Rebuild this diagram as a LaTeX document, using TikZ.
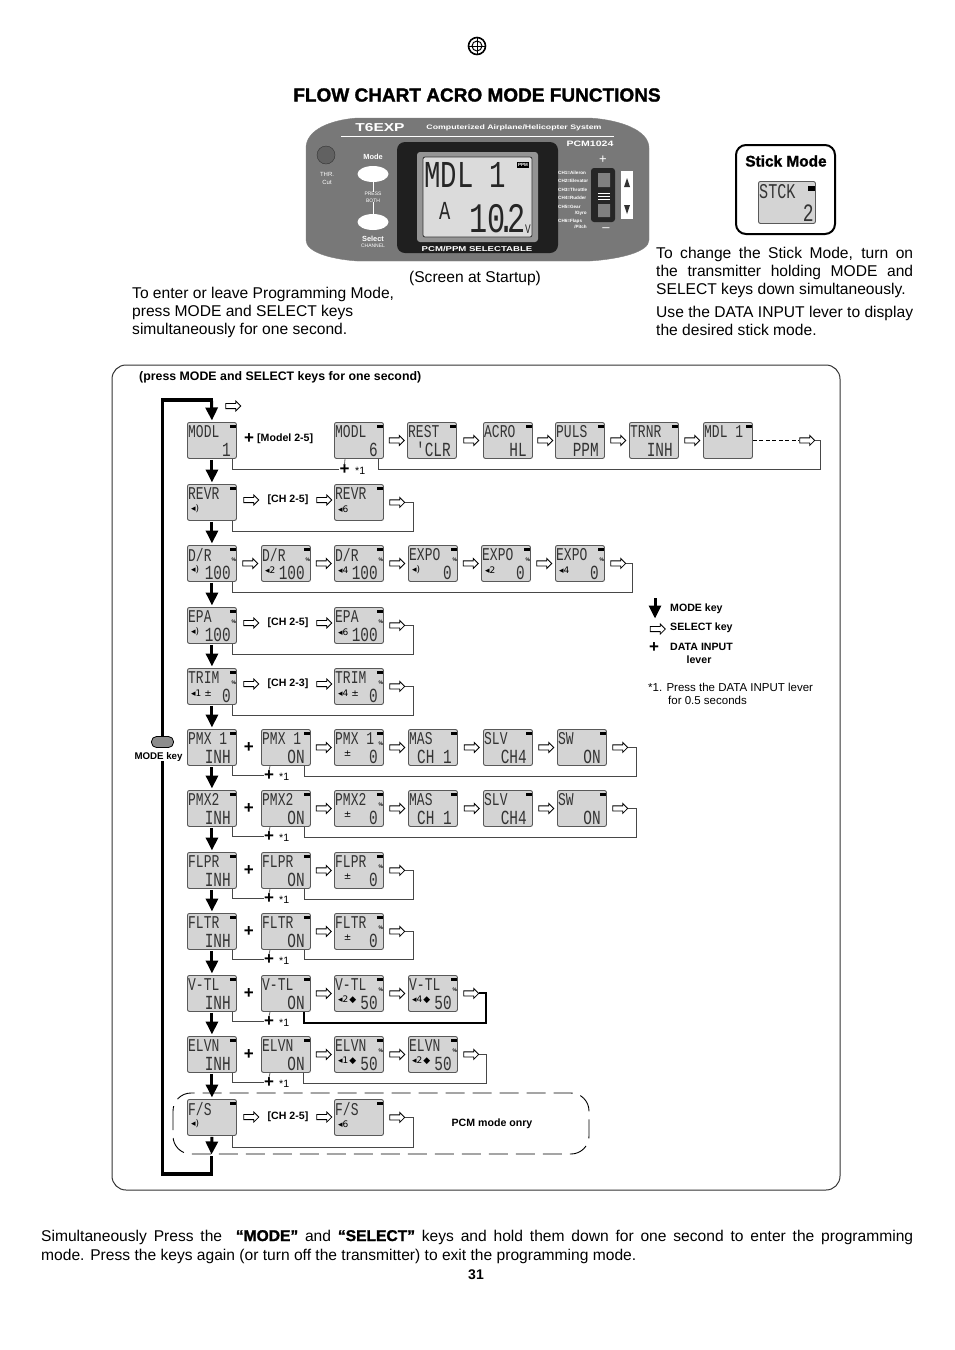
\documentclass[tikz,border=0pt]{standalone}
\usepackage{fontspec}
\setmainfont{Liberation Sans}
\newfontfamily\lcdfont[FakeStretch=0.72]{Liberation Mono}
\newfontfamily\iconfont{DejaVu Sans}
\newfontfamily\fatfont[FakeBold=1.5]{Liberation Sans Bold}
\newfontfamily\widefont[FakeStretch=1.35]{Liberation Sans Bold}
\usetikzlibrary{calc,shapes.arrows,shapes.geometric,arrows.meta}
\definecolor{panelgray}{gray}{0.47}
\definecolor{lcdgray}{gray}{0.83}
\tikzset{
  lcdbox/.style={draw=black!65,fill=lcdgray,line width=0.9pt,rounded corners=2pt,anchor=north west,
    minimum width=49pt,minimum height=36pt,inner sep=0pt},
  lcdtop/.style={font=\lcdfont\fontsize{18}{18}\selectfont,anchor=north west,inner sep=0pt,text=black!80},
  lcdval/.style={font=\lcdfont\fontsize{20}{20}\selectfont,anchor=south east,inner sep=0pt,text=black!80},
  lcdsub/.style={font=\iconfont\fontsize{9}{9}\selectfont,anchor=west,inner sep=0pt},
  selkey/.style={single arrow,draw=black,fill=white,line width=0.8pt,minimum height=15pt,minimum width=0pt,
    single arrow head extend=2.4pt,inner sep=2.2pt},
  modekey/.style={line width=3pt,-{Triangle[width=12pt,length=13pt]},shorten >=1.5pt,shorten <=1pt},
  loopline/.style={line width=3.4pt},
  datakey/.style={font=\bfseries\fontsize{17}{17}\selectfont,inner sep=0pt},
  link/.style={draw=black!72,line width=1.1pt},
  stub/.style={draw=black!60,line width=0.8pt},
  bodytxt/.style={font=\fontsize{15.6}{18}\selectfont,inner sep=0pt},
  boldtxt/.style={font=\bfseries\fontsize{10.6}{13}\selectfont,inner sep=0pt},
  thintxt/.style={font=\fontsize{10.6}{13}\selectfont,inner sep=0pt},
  notetxt/.style={font=\fontsize{11.5}{13}\selectfont,inner sep=0pt},
  paneltxt/.style={font=\bfseries\fontsize{4.6}{6}\selectfont,text=white,inner sep=0pt},
}
% one screen: name, x, y, top line, small symbol, value
\newcommand{\lcd}[6]{
  \node[lcdbox] (#1) at (#2,#3) {};
  \fill[black] ([xshift=-7pt,yshift=-3pt]#1.north east) rectangle ++(6,3);
  \node[lcdtop] (#1t) at ([xshift=1pt,yshift=-3pt]#1.north west) {#4};
  \node[lcdsub] (#1s) at ([xshift=4pt,yshift=12pt]#1.south west) {#5};
  \node[lcdval] (#1v) at ([xshift=-6pt,yshift=2pt]#1.south east) {#6};
}
\newcommand{\lcdp}[6]{
  \lcd{#1}{#2}{#3}{#4}{#5}{#6}
  \node[font=\bfseries\fontsize{5}{5}\selectfont,inner sep=0pt] (#1p) at ([xshift=-3pt,yshift=-15pt]#1.north east) {\%};
}
\newcommand{\selbetween}[2]{\node[selkey] (#1-#2) at ($(#1.east)!.5!(#2.west)$) {};}
\newcommand{\selafter}[1]{\node[selkey] (#1-e) at ([xshift=12pt]#1.east) {};}
\newcommand{\plusbetween}[2]{\node[datakey] (#1-#2) at ($(#1.east)!.5!(#2.west)$) {+};}
\begin{document}
\begin{tikzpicture}[x=1pt,y=-1pt]
\useasboundingbox (0,0) rectangle (954,1350);
% heading
\node[circle,draw,line width=1.6pt,minimum size=17pt,inner sep=0pt] (globe) at (477,46) {};
\node[circle,draw,line width=1pt,minimum size=10pt,inner sep=0pt] (globein) at (477,46) {};
\draw[line width=1pt] (globe.north) -- (globe.south) (globe.west) -- (globe.east);
\node[font=\fatfont\fontsize{19}{20}\selectfont,inner sep=0pt] (title) at (477,95) {FLOW CHART ACRO MODE FUNCTIONS};
% transmitter
\draw[draw=black!50,fill=panelgray] (357,118) -- (590,118) .. controls (620,120) and (649,130) .. (649,148) -- (649,240)
  .. controls (649,252) and (620,259) .. (590,261) -- (357,261) .. controls (330,259) and (306,252) .. (306,240)
  -- (306,148) .. controls (306,130) and (330,120) .. (357,118) -- cycle;
\node[font=\widefont\fontsize{11.5}{12}\selectfont,text=white,inner sep=0pt] (txname) at (380,128) {T6EXP};
\node[font=\widefont\fontsize{6.5}{7}\selectfont,text=white,inner sep=0pt] (txsys) at (514,128) {Computerized Airplane/Helicopter System};
\draw[white,line width=0.8pt] (341,136) -- (614,136);
\node[font=\widefont\fontsize{7.8}{8}\selectfont,text=white,inner sep=0pt] (txpcm) at (590,144) {PCM1024};
\node[circle,draw=black!80,fill=black!62,minimum size=18pt,inner sep=0pt] (thr) at (326,155) {};
\node[font=\fontsize{6}{8}\selectfont,text=white,align=center,inner sep=0pt] (thrl) at (327,178) {THR.\\Cut};
\node[font=\bfseries\fontsize{7.4}{8}\selectfont,text=white,inner sep=0pt] (model) at (373,157) {Mode};
\node[ellipse,fill=white,minimum width=31pt,minimum height=16pt,inner sep=0pt] (modeb) at (373,174) {};
\node[font=\fontsize{5}{7}\selectfont,text=white,align=center,inner sep=0pt] (press) at (373,197) {PRESS\\BOTH};
\node[ellipse,fill=white,minimum width=31pt,minimum height=16pt,inner sep=0pt] (selb) at (373,222) {};
\draw[white,line width=0.7pt] (modeb.south) -- (press.north) (press.south) -- (selb.north);
\node[font=\bfseries\fontsize{7.4}{8}\selectfont,text=white,inner sep=0pt] (sell) at (373,239) {Select};
\node[font=\fontsize{5}{6}\selectfont,text=white,inner sep=0pt] (chan) at (373,246) {CHANNEL};
\draw[fill=black!88,rounded corners=8pt,draw=none] (397,142) rectangle (558,253);
\draw[fill=black!42,draw=none,rounded corners=3pt] (417,152) rectangle (538,242);
\draw[fill=black!14,draw=black!80,line width=0.8pt,rounded corners=2pt] (423,157) rectangle (532,237);
\node[font=\lcdfont\fontsize{38}{38}\selectfont,anchor=north west,inner sep=0pt,text=black!85] (bigt) at (424,162) {MDL 1};
\node[font=\lcdfont\fontsize{26}{26}\selectfont,anchor=north west,inner sep=0pt,text=black!85] (biga) at (439,202) {A};
\node[font=\lcdfont\fontsize{42}{42}\selectfont,anchor=north west,inner sep=0pt,text=black!85] (bign) at (469,204) {10\kern-8pt.\kern-8pt2};
\node[font=\lcdfont\fontsize{13}{13}\selectfont,anchor=north west,inner sep=0pt,text=black!85] (bigv) at (525,225) {V};
\node[fill=black,text=white,font=\bfseries\fontsize{4.5}{5}\selectfont,inner sep=1pt] (ppm) at (523,165) {PPM};
\node[font=\widefont\fontsize{7.1}{8}\selectfont,text=white,inner sep=0pt] (pcmsel) at (477,249) {PCM/PPM SELECTABLE};
\node[paneltxt,anchor=west] (ch1) at (558,173) {CH1=Aileron};
\node[paneltxt,anchor=west] (ch2) at (558,181) {CH2=Elevator};
\node[paneltxt,anchor=west] (ch3) at (558,190) {CH3=Throttle};
\node[paneltxt,anchor=west] (ch4) at (558,198) {CH4=Rudder};
\node[paneltxt,anchor=west] (ch5) at (558,207) {CH5=Gear};
\node[paneltxt,anchor=east] (ch5b) at (587,213) {/Gyro};
\node[paneltxt,anchor=west] (ch6) at (558,221) {CH6=Flaps};
\node[paneltxt,anchor=east] (ch6b) at (587,227) {/Pitch};
\node[font=\fontsize{13}{13}\selectfont,text=white,inner sep=0pt] (lvplus) at (603,160) {+};
\node[font=\fontsize{13}{13}\selectfont,text=white,inner sep=0pt] (lvminus) at (606,230) {\textendash};
\draw[fill=black!85,draw=none,rounded corners=3pt] (591,168) rectangle (615,222);
\fill[black!50] (598,173) rectangle (610,187) (598,204) rectangle (610,217);
\draw[white,line width=0.5pt] (598,193) -- (610,193) (598,196) -- (610,196) (598,199) -- (610,199);
\fill[white] (621,171) rectangle (633,219);
\fill[black!80] (624,187) -- (627,178) -- (630,187) -- cycle (624,205) -- (630,205) -- (627,214) -- cycle;
\node[bodytxt] (startup) at (475,278) {(Screen at Startup)};
\node[bodytxt,anchor=north west,align=left] (enter) at (132,286.5) {To enter or leave Programming Mode,\\press MODE and SELECT keys\\simultaneously for one second.};
% stick mode
\draw[line width=2pt,rounded corners=10pt] (736,145) rectangle (835,234);
\node[font=\fatfont\fontsize{15.4}{16}\selectfont,inner sep=0pt] (sticktitle) at (786,161) {Stick Mode};
\node[lcdbox,minimum width=57pt,minimum height=42pt] (stick) at (758,181) {};
\fill[black] ([xshift=-8pt,yshift=-5pt]stick.north east) rectangle ++(7,5);
\node[lcdtop,font=\lcdfont\fontsize{21}{21}\selectfont] (stickt) at ([xshift=1pt,yshift=-3pt]stick.north west) {STCK};
\node[lcdval,font=\lcdfont\fontsize{25}{25}\selectfont] (stickv) at ([xshift=-2pt,yshift=2pt]stick.south east) {2};
\node[bodytxt,anchor=north west,text width=257pt,align=justify] (turnon) at (656,246.5) {To change the Stick Mode, turn on\linebreak the transmitter holding MODE and\linebreak SELECT keys down simultaneously.};
\node[bodytxt,anchor=north west,align=left] (usedata) at (656,305.5) {Use the DATA INPUT lever to display\\the desired stick mode.};
% chart frame
\draw[draw=black!80,line width=1pt,rounded corners=14pt] (112,365) rectangle (840,1190);
\node[boldtxt,font=\bfseries\fontsize{12.35}{14}\selectfont,anchor=west] (presshead) at (139,377) {(press MODE and SELECT keys for one second)};
\draw[dashed,dash pattern=on 19pt off 8pt,line width=0.9pt,rounded corners=18pt] (173,1093) rectangle (589,1154);
% screens
\lcd{mo1}{187}{422}{MODL}{}{1}
\lcd{mo2}{334}{422}{MODL}{}{6}
\lcd{mo3}{407}{422}{REST}{}{'CLR}
\lcd{mo4}{483}{422}{ACRO}{}{HL}
\lcd{mo5}{555}{422}{PULS}{}{PPM}
\lcd{mo6}{629}{422}{TRNR}{}{INH}
\lcd{mo7}{703}{422}{MDL 1}{}{}
\lcd{rv1}{187}{484}{REVR}{◂)}{}
\lcd{rv2}{334}{484}{REVR}{◂6}{}
\lcdp{dr1}{187}{545}{D/R}{◂)}{100}
\lcdp{dr2}{261}{545}{D/R}{◂2}{100}
\lcdp{dr3}{334}{545}{D/R}{◂4}{100}
\lcdp{dr4}{408}{545}{EXPO}{◂)}{0}
\lcdp{dr5}{481}{545}{EXPO}{◂2}{0}
\lcdp{dr6}{555}{545}{EXPO}{◂4}{0}
\lcdp{ep1}{187}{607}{EPA}{◂)}{100}
\lcdp{ep2}{334}{607}{EPA}{◂6}{100}
\lcdp{tr1}{187}{668}{TRIM}{◂1 ±}{0}
\lcdp{tr2}{334}{668}{TRIM}{◂4 ±}{0}
\lcd{pa1}{187}{729}{PMX 1}{}{INH}
\lcd{pa2}{261}{729}{PMX 1}{}{ON}
\lcdp{pa3}{334}{729}{PMX 1}{\ \ ±}{0}
\lcd{pa4}{408}{729}{MAS}{}{CH 1}
\lcd{pa5}{483}{729}{SLV}{}{CH4}
\lcd{pa6}{557}{729}{SW}{}{ON}
\lcd{pb1}{187}{790}{PMX2}{}{INH}
\lcd{pb2}{261}{790}{PMX2}{}{ON}
\lcdp{pb3}{334}{790}{PMX2}{\ \ ±}{0}
\lcd{pb4}{408}{790}{MAS}{}{CH 1}
\lcd{pb5}{483}{790}{SLV}{}{CH4}
\lcd{pb6}{557}{790}{SW}{}{ON}
\lcd{fp1}{187}{852}{FLPR}{}{INH}
\lcd{fp2}{261}{852}{FLPR}{}{ON}
\lcdp{fp3}{334}{852}{FLPR}{\ \ ±}{0}
\lcd{ft1}{187}{913}{FLTR}{}{INH}
\lcd{ft2}{261}{913}{FLTR}{}{ON}
\lcdp{ft3}{334}{913}{FLTR}{\ \ ±}{0}
\lcd{vt1}{187}{975}{V-TL}{}{INH}
\lcd{vt2}{261}{975}{V-TL}{}{ON}
\lcdp{vt3}{334}{975}{V-TL}{◂2\kern1pt◆}{50}
\lcdp{vt4}{408}{975}{V-TL}{◂4\kern1pt◆}{50}
\lcd{ev1}{187}{1036}{ELVN}{}{INH}
\lcd{ev2}{261}{1036}{ELVN}{}{ON}
\lcdp{ev3}{334}{1036}{ELVN}{◂1\kern1pt◆}{50}
\lcdp{ev4}{408}{1036}{ELVN}{◂2\kern1pt◆}{50}
\lcd{fs1}{187}{1099}{F/S}{◂)}{}
\lcd{fs2}{334}{1099}{F/S}{◂6}{}
% select key arrows
\selbetween{mo2}{mo3} \selbetween{mo3}{mo4} \selbetween{mo4}{mo5} \selbetween{mo5}{mo6} \selbetween{mo6}{mo7}
\node[selkey] (mo7-e) at ([xshift=53pt]mo7.east) {};
\draw[black,line width=0.8pt,dash pattern=on 4pt off 2.5pt] (mo7.east) -- (mo7-e.west);
\node[selkey] (topsel) at (232,406) {};
\node[selkey] (rv1-a) at (250,500) {};
\node[boldtxt] (rvch) at (288,500) {[CH 2-5]};
\node[selkey] (rv1-b) at (323,500) {};
\selafter{rv2}
\selbetween{dr1}{dr2} \selbetween{dr2}{dr3} \selbetween{dr3}{dr4} \selbetween{dr4}{dr5} \selbetween{dr5}{dr6} \selafter{dr6}
\node[selkey] (ep1-a) at (250,623) {};
\node[boldtxt] (epch) at (288,623) {[CH 2-5]};
\node[selkey] (ep1-b) at (323,623) {};
\selafter{ep2}
\node[selkey] (tr1-a) at (250,684) {};
\node[boldtxt] (trch) at (288,684) {[CH 2-3]};
\node[selkey] (tr1-b) at (323,684) {};
\selafter{tr2}
\plusbetween{pa1}{pa2} \selbetween{pa2}{pa3} \selbetween{pa3}{pa4} \selbetween{pa4}{pa5} \selbetween{pa5}{pa6} \selafter{pa6}
\plusbetween{pb1}{pb2} \selbetween{pb2}{pb3} \selbetween{pb3}{pb4} \selbetween{pb4}{pb5} \selbetween{pb5}{pb6} \selafter{pb6}
\plusbetween{fp1}{fp2} \selbetween{fp2}{fp3} \selafter{fp3}
\plusbetween{ft1}{ft2} \selbetween{ft2}{ft3} \selafter{ft3}
\plusbetween{vt1}{vt2} \selbetween{vt2}{vt3} \selbetween{vt3}{vt4} \selafter{vt4}
\plusbetween{ev1}{ev2} \selbetween{ev2}{ev3} \selbetween{ev3}{ev4} \selafter{ev4}
\node[selkey] (fs1-a) at (250,1117) {};
\node[boldtxt] (fsch) at (288,1117) {[CH 2-5]};
\node[selkey] (fs1-b) at (323,1117) {};
\selafter{fs2}
\node[boldtxt] (pcmonly) at (492,1124) {PCM mode onry};
% data input marks
\node[datakey] (moplus) at (249,438.5) {+};
\node[boldtxt,anchor=west] (mosel) at (257,439) {[Model 2-5]};
\node[datakey] (mop) at (344.5,469.5) {+};
\node[thintxt,anchor=west] (mops) at (355,471) {*1};
\node[datakey] (pap) at (269,775.5) {+};
\node[thintxt,anchor=west] (paps) at (279,777) {*1};
\node[datakey] (pbp) at (269,836.5) {+};
\node[thintxt,anchor=west] (pbps) at (279,838) {*1};
\node[datakey] (fpp) at (269,898.5) {+};
\node[thintxt,anchor=west] (fpps) at (279,900) {*1};
\node[datakey] (ftp) at (269,959.5) {+};
\node[thintxt,anchor=west] (ftps) at (279,961) {*1};
\node[datakey] (vtp) at (269,1021.5) {+};
\node[thintxt,anchor=west] (vtps) at (279,1023) {*1};
\node[datakey] (evp) at (269,1082.5) {+};
\node[thintxt,anchor=west] (evps) at (279,1084) {*1};
% return lines
\draw[link] ([xshift=-4pt]mo1.south east) |- (mop.west);
\draw[stub] ([xshift=11pt]mo2.south west) -- (mop.north);
\draw[link] ([xshift=-5pt]mo2.south east) -- ++(0,11) -| ([xshift=5pt]mo7-e.east) -- (mo7-e.east);
\draw[link] ([xshift=-4pt]rv1.south east) -- ++(0,11) -| ([xshift=8pt]rv2-e.east) -- (rv2-e.east);
\draw[link] ([xshift=-4pt]dr1.south east) -- ++(0,11) -| ([xshift=6pt]dr6-e.east) -- (dr6-e.east);
\draw[link] ([xshift=-4pt]ep1.south east) -- ++(0,11) -| ([xshift=8pt]ep2-e.east) -- (ep2-e.east);
\draw[link] ([xshift=-4pt]tr1.south east) -- ++(0,11) -| ([xshift=8pt]tr2-e.east) -- (tr2-e.east);
\draw[link] ([xshift=-4pt]pa1.south east) |- (pap.west);
\draw[stub] ([xshift=9pt]pa2.south west) -- (pap.north);
\draw[link] ([xshift=-6pt]pa2.south east) -- ++(0,11) -| ([xshift=8pt]pa6-e.east) -- (pa6-e.east);
\draw[link] ([xshift=-4pt]pb1.south east) |- (pbp.west);
\draw[stub] ([xshift=9pt]pb2.south west) -- (pbp.north);
\draw[link] ([xshift=-6pt]pb2.south east) -- ++(0,11) -| ([xshift=8pt]pb6-e.east) -- (pb6-e.east);
\draw[link] ([xshift=-4pt]fp1.south east) |- (fpp.west);
\draw[stub] ([xshift=9pt]fp2.south west) -- (fpp.north);
\draw[link] ([xshift=-6pt]fp2.south east) -- ++(0,11) -| ([xshift=8pt]fp3-e.east) -- (fp3-e.east);
\draw[link] ([xshift=-4pt]ft1.south east) |- (ftp.west);
\draw[stub] ([xshift=9pt]ft2.south west) -- (ftp.north);
\draw[link] ([xshift=-6pt]ft2.south east) -- ++(0,10) -| ([xshift=8pt]ft3-e.east) -- (ft3-e.east);
\draw[link] ([xshift=-4pt]vt1.south east) |- (vtp.west);
\draw[stub] ([xshift=9pt]vt2.south west) -- (vtp.north);
\draw[link,line width=2pt,draw=black] ([xshift=-7pt]vt2.south east) -- ++(0,11) -| ([xshift=7pt]vt4-e.east) -- (vt4-e.east);
\draw[link] ([xshift=-4pt]ev1.south east) |- (evp.west);
\draw[stub] ([xshift=9pt]ev2.south west) -- (evp.north);
\draw[link] ([xshift=-7pt]ev2.south east) -- ++(0,11) -| ([xshift=7pt]ev4-e.east) -- (ev4-e.east);
\draw[link] ([xshift=-4pt]fs1.south east) -- ++(0,12) -| ([xshift=8pt]fs2-e.east) -- (fs2-e.east);
% mode key path
\draw[modekey] (mo1.south) -- (rv1.north);
\draw[modekey] (rv1.south) -- (dr1.north);
\draw[modekey] (dr1.south) -- (ep1.north);
\draw[modekey] (ep1.south) -- (tr1.north);
\draw[modekey] (tr1.south) -- (pa1.north);
\draw[modekey] (pa1.south) -- (pb1.north);
\draw[modekey] (pb1.south) -- (fp1.north);
\draw[modekey] (fp1.south) -- (ft1.north);
\draw[modekey] (ft1.south) -- (vt1.north);
\draw[modekey] (vt1.south) -- (ev1.north);
\draw[modekey] (ev1.south) -- (fs1.north);
\node[rectangle,rounded corners=5pt,draw=black,fill=black!45,line width=0.8pt,minimum width=22pt,minimum height=11pt,inner sep=0pt] (modepill) at (162.5,742) {};
\node[font=\bfseries\fontsize{9.7}{10}\selectfont,inner sep=0pt] (modelbl) at (158.5,756.5) {MODE key};
\coordinate (loopa) at (211.5,1156);
\coordinate (loopb) at (211.5,1174);
\coordinate (loopc) at (162.5,1174);
\coordinate (loopd) at (162.5,400);
\coordinate (loope) at (211.5,400);
\draw[modekey] (fs1.south) -- (loopa);
\draw[loopline] (loopa) -- (loopb) -- (loopc) -- (loopc |- modelbl.south);
\draw[loopline] (modepill.north) -- (loopd) -- (loope) -- ++(1.7,0);
\draw[modekey] (loope) -- (mo1.north);
% legend
\coordinate (legtop) at (655,597);
\coordinate (legbot) at (655,620);
\draw[modekey] (legtop) -- (legbot);
\node[boldtxt,anchor=west] (legmode) at (670,609) {MODE key};
\node[selkey] (legsel) at (656.5,629) {};
\node[boldtxt,anchor=west] (legselt) at (670,628) {SELECT key};
\node[datakey] (legplus) at (654,648) {+};
\node[boldtxt,anchor=west] (legdata) at (670,647) {DATA INPUT};
\node[boldtxt] (leglever) at (699,660) {lever};
\node[notetxt,anchor=west] (legnote) at (648,687) {*1. Press the DATA INPUT lever};
\node[notetxt,anchor=west] (legnote2) at (668,700) {for 0.5 seconds};
% footer
\node[bodytxt,font=\fontsize{15.6}{19}\selectfont,anchor=north west,text width=872pt,align=justify] (footer) at (41,1229.5) {Simultaneously Press the \ {\fatfont “MODE”} and {\fatfont “SELECT”} keys and hold them down for one second to enter the programming\linebreak mode. Press the keys again (or turn off the transmitter) to exit the programming mode.};
\node[font=\bfseries\fontsize{14}{14}\selectfont,inner sep=0pt] (pagenum) at (476,1275) {31};
\end{tikzpicture}
\end{document}
